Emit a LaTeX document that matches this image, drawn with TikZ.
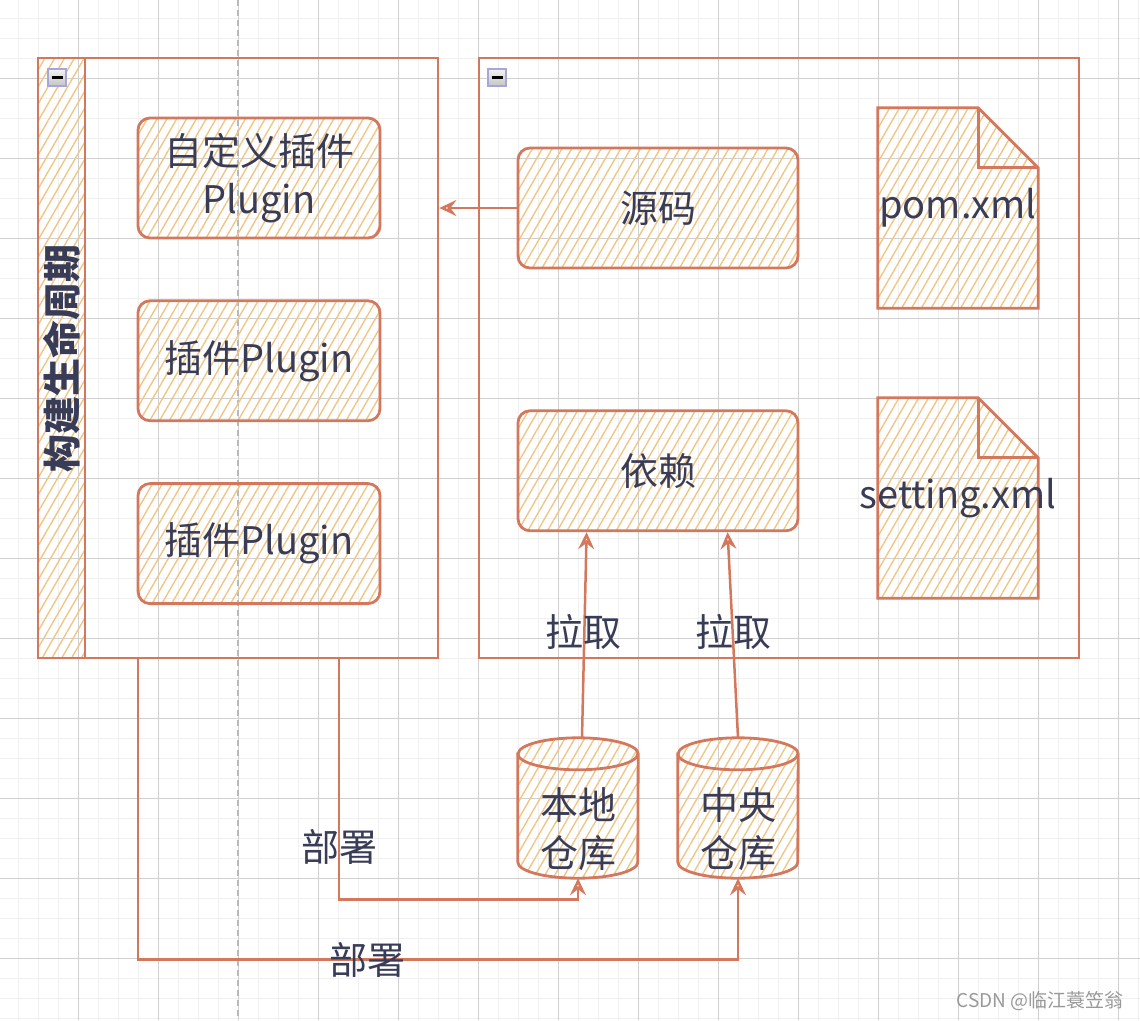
\documentclass[tikz,border=0pt]{standalone}
\usepackage{fontspec}
\setmainfont{Noto Sans CJK SC}
\usetikzlibrary{positioning,      % placement relatif
                arrows.meta,      % pointes de fleches
                patterns.meta,    % hachures
                calc}
\pgfdeclarelayer{grid}
\pgfdeclarelayer{background}
\pgfsetlayers{grid,background,main}
\definecolor{sk}{HTML}{D4785D}
\definecolor{skfill}{HTML}{F0C685}
\definecolor{ink}{HTML}{393C56}
\definecolor{gridmin}{HTML}{F0F0F0}
\definecolor{gridmaj}{HTML}{D0D0D0}

\tikzset{
  hatch/.style={pattern={Lines[angle=60,distance=8.5pt,line width=1.4pt]},pattern color=skfill},
  lane/.style={draw=sk,line width=2.8pt,minimum width=400pt,minimum height=600pt,inner sep=0pt},
  lanebar/.style={draw=sk,line width=2.8pt,hatch,minimum width=600pt,minimum height=47pt,inner sep=0pt,font=\fontsize{38}{38}\selectfont\bfseries},
  fold/.style={draw=gray!60!blue!50,line width=2pt,top color=gray!8,bottom color=gray!45,
    minimum width=18pt,minimum height=17pt,inner sep=0pt,
    path picture={\draw[black,line width=3pt] ([xshift=-5.5pt]path picture bounding box.center)--([xshift=5.5pt]path picture bounding box.center);}},
  box/.style={draw=sk,line width=2.8pt,hatch,rounded corners=12pt,minimum width=242pt,minimum height=120pt,align=center},
  docbox/.style={minimum width=160pt,minimum height=200pt,inner sep=0pt},
  dbbox/.style={minimum width=120pt,minimum height=140pt,inner sep=0pt},
  skline/.style={draw=sk,line width=2.8pt},
  conn/.style={draw=sk,line width=2.5pt,->},
  lbl/.style={align=center}
}

\begin{document}
\begin{tikzpicture}[x=1pt,y=-1pt,font=\fontsize{38}{48}\selectfont,text=ink,
  >={Stealth[open,length=17pt,width=16pt,inset=6pt]}]
\useasboundingbox (0,0) rectangle (1140,1020);

% quadrillage
\begin{pgfonlayer}{grid}
\foreach \i in {18,38,...,1138} \draw[gridmin,line width=1pt] (\i,0)--(\i,1020);
\foreach \i in {18,38,...,1018} \draw[gridmin,line width=1pt] (0,\i)--(1140,\i);
\foreach \i in {78,158,...,1118} \draw[gridmaj,line width=1pt] (\i,0)--(\i,1020);
\foreach \i in {78,158,...,958} \draw[gridmaj,line width=1pt] (0,\i)--(1140,\i);
\draw[gray!55,line width=1.2pt,dash pattern=on 6pt off 4pt] (238,0)--(238,1020);
\end{pgfonlayer}

% cycle de vie
\node[lane] (life) at (238,358) {};
\node[lanebar,rotate=90] (lifebar) at (61.5,358) {构建生命周期};
\node[fold] (lifefold) at (57,77) {};
\node[box] (custom) at (259,178) {自定义插件\\Plugin};
\node[box,below=60pt of custom] (plugA) {插件Plugin};
\node[box,below=60pt of plugA] (plugB) {插件Plugin};

% projet
\node[lane,minimum width=600pt] (proj) at (779,358) {};
\node[fold] (projfold) at (497,77) {};
\node[box,minimum width=280pt] (src) at (658,208) {源码};
\node[box,minimum width=280pt,below=140pt of src] (dep) {依赖};
\node[docbox,label={center:pom.xml}] (pom) at (958,208) {};
\node[docbox,label={center:setting.xml}] (setting) at (958,498) {};

% depots
\node[dbbox] (local) at (578,808) {};
\node[dbbox] (central) at (738,808) {};
\node[lbl] (localname) at ([yshift=-21pt]local.center) {本地\\仓库};
\node[lbl] (centralname) at ([yshift=-21pt]central.center) {中央\\仓库};

\begin{pgfonlayer}{background}
\foreach \d in {pom,setting}{
  \draw[skline,hatch] (\d.north west)--([xshift=-60pt]\d.north east)--([yshift=-60pt]\d.north east)--(\d.south east)--(\d.south west)--cycle;
  \draw[skline] ([xshift=-60pt]\d.north east) |- ([yshift=-60pt]\d.north east);
}
\foreach \d in {local,central}{
  \draw[skline,hatch] ([yshift=-16pt]\d.north west)--([yshift=16pt]\d.south west)
    arc[start angle=180,end angle=360,x radius=60pt,y radius=16pt]
    --([yshift=-16pt]\d.north east)
    arc[start angle=0,end angle=180,x radius=60pt,y radius=16pt]--cycle;
  \draw[skline] ([yshift=-16pt]\d.north west) arc[start angle=180,end angle=360,x radius=60pt,y radius=16pt];
}
\end{pgfonlayer}

% fleches
\draw[conn] (src) -- (life.east |- src);
\draw[conn] ([xshift=4pt]local.north) -- ([xshift=70pt]dep.south west);
\draw[conn] (central.north) -- ([xshift=211pt]dep.south west);
\draw[conn] ([xshift=101pt]life.south) -- ++(0pt,-240pt) -| (local.south);
\draw[conn] ([xshift=-100pt]life.south) -- ++(0pt,-300pt) -| (central.south);

\node[lbl] (pullA) at (583,632) {拉取};
\node[lbl] (pullB) at (733,632) {拉取};
\node[lbl] (pushA) at (339,847) {部署};
\node[lbl] (pushB) at (367,960) {部署};

\node[font=\fontsize{19}{19}\selectfont,text=gray!80] (mark) at (1040,1001) {CSDN @临江蓑笠翁};
\end{tikzpicture}
\end{document}
